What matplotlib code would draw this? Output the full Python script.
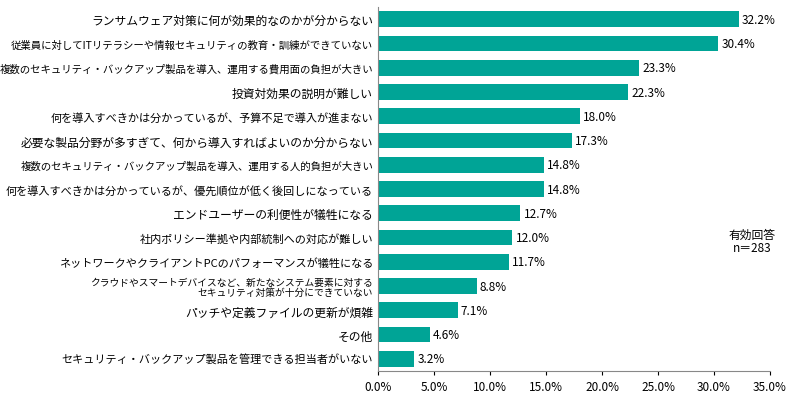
import matplotlib.pyplot as plt
import numpy as np

plt.rcParams['font.family'] = ['Noto Sans CJK JP', 'DejaVu Sans']

labels = [
    'ランサムウェア対策に何が効果的なのかが分からない',
    '従業員に対してITリテラシーや情報セキュリティの教育・訓練ができていない',
    '複数のセキュリティ・バックアップ製品を導入、運用する費用面の負担が大きい',
    '投資対効果の説明が難しい',
    '何を導入すべきかは分かっているが、予算不足で導入が進まない',
    '必要な製品分野が多すぎて、何から導入すればよいのか分からない',
    '複数のセキュリティ・バックアップ製品を導入、運用する人的負担が大きい',
    '何を導入すべきかは分かっているが、優先順位が低く後回しになっている',
    'エンドユーザーの利便性が犠牲になる',
    '社内ポリシー準拠や内部統制への対応が難しい',
    'ネットワークやクライアントPCのパフォーマンスが犠牲になる',
    'クラウドやスマートデバイスなど、新たなシステム要素に対する\nセキュリティ対策が十分にできていない',
    'パッチや定義ファイルの更新が煩雑',
    'その他',
    'セキュリティ・バックアップ製品を管理できる担当者がいない',
]
values = [32.2, 30.4, 23.3, 22.3, 18.0, 17.3, 14.8, 14.8, 12.7, 12.0, 11.7, 8.8, 7.1, 4.6, 3.2]
label_sizes = [8.5, 7.5, 7.5, 8.5, 8, 8.5, 7.5, 8, 8.5, 8, 8, 7, 8.5, 8.5, 8]

fig = plt.figure(figsize=(8, 4.1), dpi=100)
ax = fig.add_axes([0.4725, 0.093, 0.49, 0.887])
y = np.arange(len(values))
ax.barh(y, values, height=0.65, color='#00A496')
for yi, v in zip(y, values):
    ax.text(v + 0.3, yi, f'{v:.1f}%', va='center', fontsize=8.5)
ax.set_yticks(y)
ax.set_yticklabels(labels, fontsize=8)
for t, s in zip(ax.get_yticklabels(), label_sizes):
    t.set_fontsize(s)
    t.set_linespacing(1.0)
ax.set_ylim(len(values) - 0.5, -0.5)
ax.set_xlim(0, 35)
ax.set_xticks(np.arange(0, 36, 5))
ax.set_xticklabels([f'{x:.1f}%' for x in np.arange(0, 36, 5)], fontsize=8.5)
ax.tick_params(axis='y', length=0)
ax.tick_params(axis='x', length=3)
for s in ['top', 'right']:
    ax.spines[s].set_visible(False)
ax.spines['left'].set_color('#888888')
ax.spines['bottom'].set_color('#888888')
fig.text(0.94, 0.41, '有効回答\nn＝283', ha='center', va='center', fontsize=8.5, linespacing=1.1)
fig.savefig('out.png', dpi=100)
